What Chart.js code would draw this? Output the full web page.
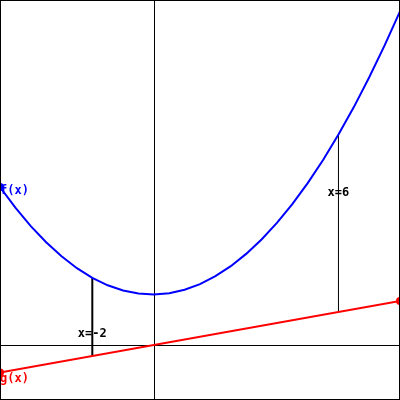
<!DOCTYPE html>
<html lang="en-US">
<head>
	<meta charset="utf-8">
	<title>f(x) and g(x)</title>
	<script src="https://cdn.jsdelivr.net/npm/chart.js@4/dist/chart.umd.min.js"></script>
	<style>
		body { margin: 0; background: #fff; }
		.wrapper { width: 400px; height: 400px; }
	</style>
</head>
<body>
	<div class="wrapper">
		<canvas id="chart-0" width="400" height="400"></canvas>
	</div>

	<script>
		var xs = [-5,-4.5,-4,-3.5,-3,-2.5,-2,-1.5,-1,-0.5,0,0.5,1,1.5,2,2.5,3,3.5,4,4.5,5,5.5,6,6.5,7,7.5,8];
		var fVals = [15.79,13.73,11.89,10.27,8.87,7.68,6.72,5.97,5.45,5.14,5.05,5.18,5.53,6.09,6.88,7.88,9.11,10.55,12.21,14.09,16.19,18.50,21.04,23.79,26.77,29.96,33.37];
		var gX = [-5, 8];
		var gVals = [-2.75, 4.4];
		var markX = [-2, 6];
		var markF = [6.72, 21.04];
		var markG = [-1.1, 3.3];
		var markLabels = ['x=-2', 'x=6'];

		var xMin = -5, xMax = 8, yMin = -5.5, yMax = 34.5;

		function pts(x, y) {
			return x.map(function (v, i) { return { x: v, y: y[i] }; });
		}

		var datasets = [{
			label: 'f(x)',
			data: pts(xs, fVals),
			borderColor: '#0000ff',
			backgroundColor: '#0000ff',
			borderWidth: 2,
			pointRadius: xs.map(function (v, i) { return i === 0 ? 3 : 0; }),
			tension: 0
		}, {
			label: 'g(x)',
			data: pts(gX, gVals),
			borderColor: '#ff0000',
			backgroundColor: '#ff0000',
			borderWidth: 2,
			pointRadius: 3
		}];

		markX.forEach(function (x, i) {
			datasets.push({
				label: markLabels[i],
				data: [{ x: x, y: markG[i] }, { x: x, y: markF[i] }],
				borderColor: '#000',
				borderWidth: i === 0 ? 2 : 1,
				pointRadius: 0
			});
		});

		var texts = [
			{ t: 'f(x)', x: -5, y: 15.4, c: '#0000ff', a: 'left' },
			{ t: 'g(x)', x: -5, y: -3.4, c: '#ff0000', a: 'left' },
			{ t: 'x=-2', x: -2, y: 1.1, c: '#000', a: 'center' },
			{ t: 'x=6', x: 6, y: 15.2, c: '#000', a: 'center' }
		];

		var axesPlugin = {
			id: 'axes',
			beforeDatasetsDraw: function (chart) {
				var ctx = chart.ctx, xs = chart.scales.x, ys = chart.scales.y;
				var x0 = Math.round(xs.getPixelForValue(0)) + 0.5;
				var y0 = Math.round(ys.getPixelForValue(0)) + 0.5;
				ctx.save();
				ctx.strokeStyle = '#000';
				ctx.lineWidth = 1;
				ctx.beginPath();
				ctx.moveTo(x0, 0); ctx.lineTo(x0, 400);
				ctx.moveTo(0, y0); ctx.lineTo(400, y0);
				ctx.stroke();
				ctx.restore();
			},
			afterDatasetsDraw: function (chart) {
				var ctx = chart.ctx, xs = chart.scales.x, ys = chart.scales.y;
				ctx.save();
				ctx.font = 'bold 12px "DejaVu Sans Mono"';
				ctx.textBaseline = 'middle';
				texts.forEach(function (t) {
					ctx.fillStyle = t.c;
					ctx.textAlign = t.a;
					ctx.fillText(t.t, xs.getPixelForValue(t.x), ys.getPixelForValue(t.y));
				});
				ctx.strokeStyle = '#000';
				ctx.lineWidth = 1;
				ctx.strokeRect(0.5, 0.5, 399, 399);
				ctx.restore();
			}
		};

		var chart = new Chart('chart-0', {
			type: 'scatter',
			data: { datasets: datasets },
			options: {
				responsive: false,
				animation: false,
				showLine: true,
				layout: { padding: 0, autoPadding: false },
				scales: {
					x: { type: 'linear', min: xMin, max: xMax, display: false },
					y: { type: 'linear', min: yMin, max: yMax, display: false }
				},
				plugins: {
					legend: { display: false },
					tooltip: { enabled: false }
				}
			},
			plugins: [axesPlugin]
		});
	</script>
</body>
</html>
